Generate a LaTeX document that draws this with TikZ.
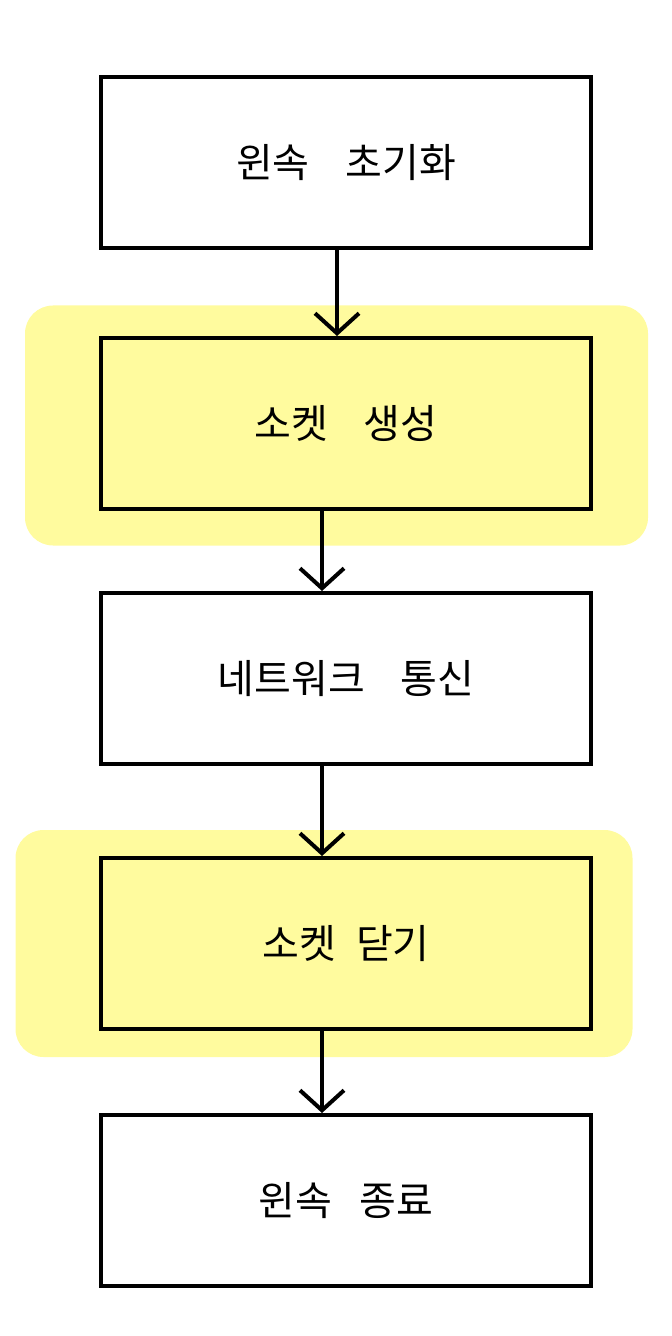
\documentclass[tikz,border=0pt]{standalone}
\usepackage{xcolor}
\usepackage{fontspec}
\usepackage{tikz}
\usetikzlibrary{arrows.meta, positioning, backgrounds}
\newfontfamily\krfont{Noto Sans CJK KR}
\definecolor{marker}{HTML}{FFFB9E}

\begin{document}
\begin{tikzpicture}[
    node distance=43pt,
    step box/.style={rectangle, draw, line width=2pt, minimum width=245pt, minimum height=85.5pt, text centered, fill=white, font=\krfont\fontsize{20}{24}\selectfont},
    hot/.style={fill=marker},
    glow/.style={rectangle, fill=marker, rounded corners=14pt, inner sep=0pt},
    arrow/.style={line width=2pt, -{Straight Barb[length=10pt, width=22pt, line width=2pt]}}
]
\useasboundingbox (0,0) rectangle (336pt,-668pt);

% Nodes
\node (init) [step box] at (173pt,-81.25pt) {윈속\hspace{0.9em}초기화};
\node (sock) [step box, hot, below=43pt of init] {소켓\hspace{0.9em}생성};
\node (comm) [step box, below=40pt of sock] {네트워크\hspace{0.9em}통신};
\node (close) [step box, hot, below=45pt of comm] {소켓\hspace{0.5em}닫기};
\node (quit) [step box, below=41pt of close] {윈속\hspace{0.7em}종료};

% Highlights
\begin{scope}[on background layer]
\node (glowa) [glow, minimum width=311.5pt, minimum height=120pt] at ([xshift=-4.75pt, yshift=-1pt]sock.center) {};
\node (glowb) [glow, minimum width=308.5pt, minimum height=113.5pt] at ([xshift=-11pt]close.center) {};
\end{scope}

% Arrows
\draw [arrow] ([xshift=-4.5pt]init.south) -- ([xshift=-4.5pt]sock.north);
\draw [arrow] ([xshift=-12pt]sock.south) -- ([xshift=-12pt]comm.north);
\draw [arrow] ([xshift=-12pt]comm.south) -- ([xshift=-12pt]close.north);
\draw [arrow] ([xshift=-12pt]close.south) -- ([xshift=-12pt]quit.north);

\end{tikzpicture}
\end{document}
